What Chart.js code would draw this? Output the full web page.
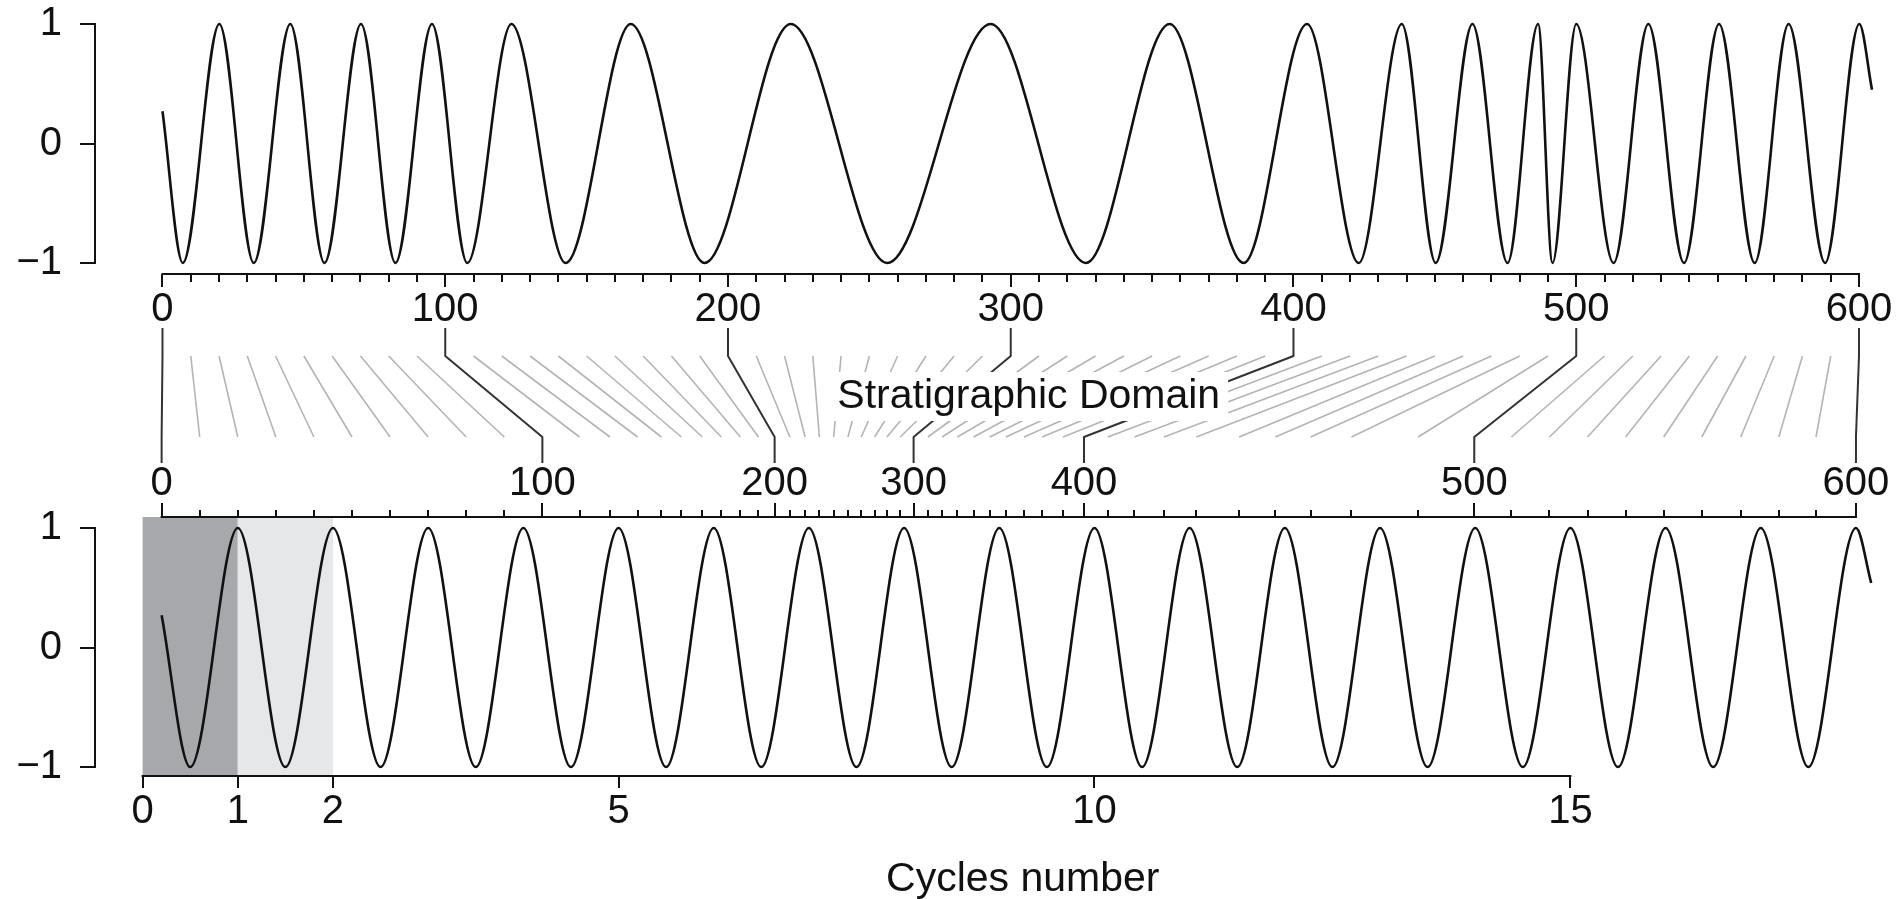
<!DOCTYPE html>
<html>
<head>
<meta charset="utf-8">
<title>Stratigraphic domain vs cycles number</title>
<script src="https://cdn.jsdelivr.net/npm/chart.js@4.4.1/dist/chart.umd.min.js"></script>
<style>
  html, body { margin: 0; padding: 0; background: #ffffff; }
  #wrap { position: relative; width: 1903px; height: 899px; }
  #wrap canvas { position: absolute; left: 0; top: 0; }
</style>
</head>
<body>
<div id="wrap">
  <canvas id="upper" width="1903" height="899"></canvas>
  <canvas id="lower" width="1903" height="899"></canvas>
</div>
<script>
// Stratigraphic positions marked every 10 units
const STRAT_DEPTH = [0, 10, 20, 30, 40, 50, 60, 70, 80, 90,
  100, 110, 120, 130, 140, 150, 160, 170, 180, 190,
  200, 210, 220, 230, 240, 250, 260, 270, 280, 290,
  300, 310, 320, 330, 340, 350, 360, 370, 380, 390,
  400, 410, 420, 430, 440, 450, 460, 470, 480, 490,
  500, 510, 520, 530, 540, 550, 560, 570, 580, 590, 600];

// Cycle number at which each of those stratigraphic positions falls
const STRAT_CYCLE = [0.20, 0.60, 1.00, 1.40, 1.80, 2.20, 2.60, 3.00, 3.40, 3.80,
  4.20, 4.59, 4.91, 5.20, 5.45, 5.66, 5.88, 6.08, 6.28, 6.47,
  6.64, 6.80, 6.96, 7.11, 7.26, 7.41, 7.55, 7.69, 7.82, 7.96,
  8.10, 8.25, 8.40, 8.56, 8.73, 8.90, 9.07, 9.26, 9.45, 9.67,
  9.89, 10.14, 10.42, 10.73, 11.07, 11.52, 11.90, 12.27, 12.70, 13.40,
  13.99, 14.38, 14.78, 15.18, 15.58, 15.98, 16.38, 16.79, 17.19, 17.58, 18.00];

// Labelled stratigraphic positions
const DEPTH_LABELS = [0, 100, 200, 300, 400, 500, 600];

// Signal in the stratigraphic domain: first point, every trough / peak, last point
const STRAT_SIGNAL_DEPTH = [0, 7.2, 20.1, 32.3, 45.2, 57.3, 70.2, 82.4, 95.3,
  107.8, 123.4, 142.6, 165.6, 191.7, 222.2, 256.3, 292.9, 326.6, 356.2,
  382.4, 404.8, 423.1, 438.3, 450.3, 463.3, 475.7, 486.5, 491.6, 500.0,
  513.2, 525.5, 538.1, 550.5, 563.1, 575.1, 588.0, 600.1, 604.6];
const STRAT_SIGNAL_VALUE = [0.27, -1, 1, -1, 1, -1, 1, -1, 1,
  -1, 1, -1, 1, -1, 1, -1, 1, -1, 1,
  -1, 1, -1, 1, -1, 1, -1, 1, -1, 1,
  -1, 1, -1, 1, -1, 1, -1, 1, 0.45];

// Same signal against cycle number: first point, every trough / peak, last point
const CYCLE_SIGNAL_X = [0.2, 0.5, 1, 1.5, 2, 2.5, 3, 3.5, 4,
  4.5, 5, 5.5, 6, 6.5, 7, 7.5, 8, 8.5, 9,
  9.5, 10, 10.5, 11, 11.5, 12, 12.5, 13, 13.5, 14,
  14.5, 15, 15.5, 16, 16.5, 17, 17.5, 18, 18.16];
const CYCLE_SIGNAL_VALUE = [0.27, -1, 1, -1, 1, -1, 1, -1, 1,
  -1, 1, -1, 1, -1, 1, -1, 1, -1, 1,
  -1, 1, -1, 1, -1, 1, -1, 1, -1, 1,
  -1, 1, -1, 1, -1, 1, -1, 1, 0.54];

const CYCLE_TICKS = [0, 1, 2, 5, 10, 15];
const AMPLITUDE_TICKS = [-1, 0, 1];

// Highlighted cycles (start, end)
const SHADED_START = [0, 1];
const SHADED_END = [1, 2];

// ---- styling -------------------------------------------------------------
const INK = '#111111';
const CONNECTOR_INK = '#333333';
const GUIDE_GREY = '#b4b4b4';
const SHADE_COLORS = ['#a6a8ab', '#e6e7e9'];
const FONT_FAMILY = "'Liberation Sans', Arial, Helvetica, sans-serif";
const TICK_FONT = { family: FONT_FAMILY, size: 40 };
const TEXT_FONT = '41px ' + FONT_FAMILY;

// axis ranges
const TOP_Y_MIN = -1.092, TOP_Y_MAX = 1;
const BOT_Y_MIN = -1.075, BOT_Y_MAX = 1.092;
const DEPTH_MIN = -23.87, DEPTH_MAX = 605.66;
const CYCLE_MIN = -0.5, CYCLE_MAX = 18.2;

const majorIdx = STRAT_DEPTH.map((d, i) => i).filter(i => DEPTH_LABELS.includes(STRAT_DEPTH[i]));

const fmtSigned = v => (v < 0 ? '\u2212' + Math.abs(v) : String(v));

function amplitudeAxis(min, max) {
  return {
    type: 'linear', axis: 'y', position: 'left', min, max,
    afterBuildTicks: s => { s.ticks = AMPLITUDE_TICKS.map(v => ({ value: v })); },
    afterFit: s => { s.width = 95; s.paddingTop = 0; s.paddingBottom = 0; },
    grid: { drawOnChartArea: false, drawTicks: true, tickLength: 15, color: INK, lineWidth: 2 },
    border: { display: false },
    ticks: { font: TICK_FONT, color: INK, padding: 18, callback: v => fmtSigned(v) }
  };
}

function line(ctx, pts, color, width) {
  ctx.save();
  ctx.strokeStyle = color;
  ctx.lineWidth = width;
  ctx.lineCap = 'square';
  ctx.lineJoin = 'miter';
  ctx.beginPath();
  pts.forEach((p, i) => (i ? ctx.lineTo(p[0], p[1]) : ctx.moveTo(p[0], p[1])));
  ctx.stroke();
  ctx.restore();
}

// axis lines restricted to the labelled ranges of the upper panel
const upperAxes = {
  id: 'upperAxes',
  afterDraw(chart) {
    const { ctx, scales } = chart;
    const y = scales.yTop, x = scales.xDepth;
    const axisY = Math.round(y.getPixelForValue(TOP_Y_MIN));
    line(ctx, [[y.right, y.getPixelForValue(AMPLITUDE_TICKS[0])],
               [y.right, y.getPixelForValue(AMPLITUDE_TICKS[AMPLITUDE_TICKS.length - 1])]], INK, 2);
    line(ctx, [[x.getPixelForValue(DEPTH_LABELS[0]), axisY],
               [x.getPixelForValue(DEPTH_LABELS[DEPTH_LABELS.length - 1]), axisY]], INK, 2);
  }
};

const upper = new Chart(document.getElementById('upper'), {
  type: 'line',
  data: {
    datasets: [{
      data: STRAT_SIGNAL_DEPTH.map((d, i) => ({ x: d, y: STRAT_SIGNAL_VALUE[i] })),
      xAxisID: 'xDepth', yAxisID: 'yTop',
      borderColor: INK, borderWidth: 2.6, pointRadius: 0, fill: false,
      cubicInterpolationMode: 'monotone', clip: false
    }]
  },
  options: {
    responsive: false, animation: false, devicePixelRatio: 1, events: [],
    layout: { padding: { left: 0, right: 28, top: 24, bottom: 625 } },
    plugins: { legend: { display: false }, tooltip: { enabled: false }, title: { display: false } },
    scales: {
      yTop: amplitudeAxis(TOP_Y_MIN, TOP_Y_MAX),
      xDepth: {
        type: 'linear', axis: 'x', position: { yTop: TOP_Y_MIN }, min: DEPTH_MIN, max: DEPTH_MAX,
        afterBuildTicks: s => { s.ticks = DEPTH_LABELS.map(v => ({ value: v })); },
        grid: { drawOnChartArea: false, drawTicks: true, tickLength: 13, color: INK, lineWidth: 2 },
        border: { display: false },
        ticks: { font: TICK_FONT, color: INK, padding: -1, autoSkip: false, maxRotation: 0, minRotation: 0,
                 callback: v => String(v) }
      },
      xDepthMinor: {
        type: 'linear', axis: 'x', position: { yTop: TOP_Y_MIN }, min: DEPTH_MIN, max: DEPTH_MAX,
        afterBuildTicks: s => { s.ticks = STRAT_DEPTH.map(v => ({ value: v })); },
        grid: { drawOnChartArea: false, drawTicks: true, tickLength: 8, color: INK, lineWidth: 2 },
        border: { display: false },
        ticks: { display: false, autoSkip: false }
      }
    }
  },
  plugins: [upperAxes]
});

// shading of the first cycles
const cycleShading = {
  id: 'cycleShading',
  beforeDraw(chart) {
    const { ctx, chartArea, scales } = chart;
    const x = scales.xCycle;
    ctx.save();
    SHADED_START.forEach((s, i) => {
      const x0 = x.getPixelForValue(s), x1 = x.getPixelForValue(SHADED_END[i]);
      ctx.fillStyle = SHADE_COLORS[i];
      ctx.fillRect(x0, chartArea.top, x1 - x0, chartArea.bottom - chartArea.top);
    });
    ctx.restore();
  }
};

// axis lines, depth-to-cycle connectors and captions
const lowerDecor = {
  id: 'lowerDecor',
  afterDraw(chart) {
    const { ctx, scales } = chart;
    const y = scales.yBot, xc = scales.xCycle, xs = scales.xStrat;
    const depthAxis = upper.scales.xDepth;
    const topAxisY = Math.round(upper.scales.yTop.getPixelForValue(TOP_Y_MIN));
    const stratAxisY = Math.round(y.getPixelForValue(BOT_Y_MAX));
    const cycleAxisY = Math.round(y.getPixelForValue(BOT_Y_MIN));

    // axis lines
    line(ctx, [[y.right, y.getPixelForValue(AMPLITUDE_TICKS[0])],
               [y.right, y.getPixelForValue(AMPLITUDE_TICKS[AMPLITUDE_TICKS.length - 1])]], INK, 2);
    line(ctx, [[xc.getPixelForValue(CYCLE_TICKS[0]), cycleAxisY],
               [xc.getPixelForValue(CYCLE_TICKS[CYCLE_TICKS.length - 1]), cycleAxisY]], INK, 2);
    line(ctx, [[xs.getPixelForValue(STRAT_CYCLE[0]), stratAxisY],
               [xs.getPixelForValue(STRAT_CYCLE[STRAT_CYCLE.length - 1]), stratAxisY]], INK, 2);

    // connector band between the two depth axes
    const yA = topAxisY + 54, yB = topAxisY + 82, yC = stratAxisY - 80, yD = stratAxisY - 54;
    ctx.save();
    ctx.lineCap = 'butt';
    STRAT_DEPTH.forEach((d, i) => {
      if (DEPTH_LABELS.includes(d)) return;
      ctx.strokeStyle = GUIDE_GREY;
      ctx.lineWidth = 1.6;
      ctx.beginPath();
      ctx.moveTo(depthAxis.getPixelForValue(d), yB);
      ctx.lineTo(xs.getPixelForValue(STRAT_CYCLE[i]), yC);
      ctx.stroke();
    });
    majorIdx.forEach(i => {
      const xt = depthAxis.getPixelForValue(STRAT_DEPTH[i]);
      const xb = xs.getPixelForValue(STRAT_CYCLE[i]);
      ctx.strokeStyle = CONNECTOR_INK;
      ctx.lineWidth = 2;
      ctx.lineJoin = 'round';
      ctx.beginPath();
      ctx.moveTo(xt, yA);
      ctx.lineTo(xt, yB);
      ctx.lineTo(xb, yC);
      ctx.lineTo(xb, yD);
      ctx.stroke();
    });

    // band caption on a white plate
    ctx.font = TEXT_FONT;
    const caption = 'Stratigraphic Domain';
    const cx = 0.5 * (depthAxis.getPixelForValue(0) + chart.width) - 4;
    const cy = 0.5 * (yB + yC);
    const w = ctx.measureText(caption).width;
    ctx.fillStyle = '#ffffff';
    ctx.fillRect(cx - w / 2 - 8, cy - 24.5, w + 16, 49);
    ctx.fillStyle = INK;
    ctx.textAlign = 'center';
    ctx.textBaseline = 'middle';
    ctx.fillText(caption, cx, cy);

    // x-axis title
    ctx.fillText('Cycles number', 0.5 * (xc.getPixelForValue(0) + chart.width), cycleAxisY + 104);
    ctx.restore();
  }
};

const lower = new Chart(document.getElementById('lower'), {
  type: 'line',
  data: {
    datasets: [{
      data: CYCLE_SIGNAL_X.map((c, i) => ({ x: c, y: CYCLE_SIGNAL_VALUE[i] })),
      xAxisID: 'xCycle', yAxisID: 'yBot',
      borderColor: INK, borderWidth: 2.6, pointRadius: 0, fill: false,
      cubicInterpolationMode: 'monotone', clip: false
    }]
  },
  options: {
    responsive: false, animation: false, devicePixelRatio: 1, events: [],
    layout: { padding: { left: 0, right: 28, top: 517, bottom: 123 } },
    plugins: { legend: { display: false }, tooltip: { enabled: false }, title: { display: false } },
    scales: {
      yBot: amplitudeAxis(BOT_Y_MIN, BOT_Y_MAX),
      xCycle: {
        type: 'linear', axis: 'x', position: { yBot: BOT_Y_MIN }, min: CYCLE_MIN, max: CYCLE_MAX,
        afterBuildTicks: s => { s.ticks = CYCLE_TICKS.map(v => ({ value: v })); },
        grid: { drawOnChartArea: false, drawTicks: true, tickLength: 12, color: INK, lineWidth: 2 },
        border: { display: false },
        ticks: { font: TICK_FONT, color: INK, padding: 0, autoSkip: false, maxRotation: 0, minRotation: 0,
                 callback: v => String(v) }
      },
      xStrat: {
        type: 'linear', axis: 'x', position: { yBot: BOT_Y_MAX }, min: CYCLE_MIN, max: CYCLE_MAX,
        afterBuildTicks: s => { s.ticks = majorIdx.map(i => ({ value: STRAT_CYCLE[i] })); },
        grid: { drawOnChartArea: false, drawTicks: true, tickLength: -14, color: INK, lineWidth: 2 },
        border: { display: false },
        ticks: { font: TICK_FONT, color: INK, padding: -43, autoSkip: false, maxRotation: 0, minRotation: 0,
                 callback: (v, i) => String(STRAT_DEPTH[majorIdx[i]]) }
      },
      xStratMinor: {
        type: 'linear', axis: 'x', position: { yBot: BOT_Y_MAX }, min: CYCLE_MIN, max: CYCLE_MAX,
        afterBuildTicks: s => { s.ticks = STRAT_CYCLE.map(v => ({ value: v })); },
        grid: { drawOnChartArea: false, drawTicks: true, tickLength: -7, color: INK, lineWidth: 2 },
        border: { display: false },
        ticks: { display: false, autoSkip: false }
      }
    }
  },
  plugins: [cycleShading, lowerDecor]
});
</script>
</body>
</html>
